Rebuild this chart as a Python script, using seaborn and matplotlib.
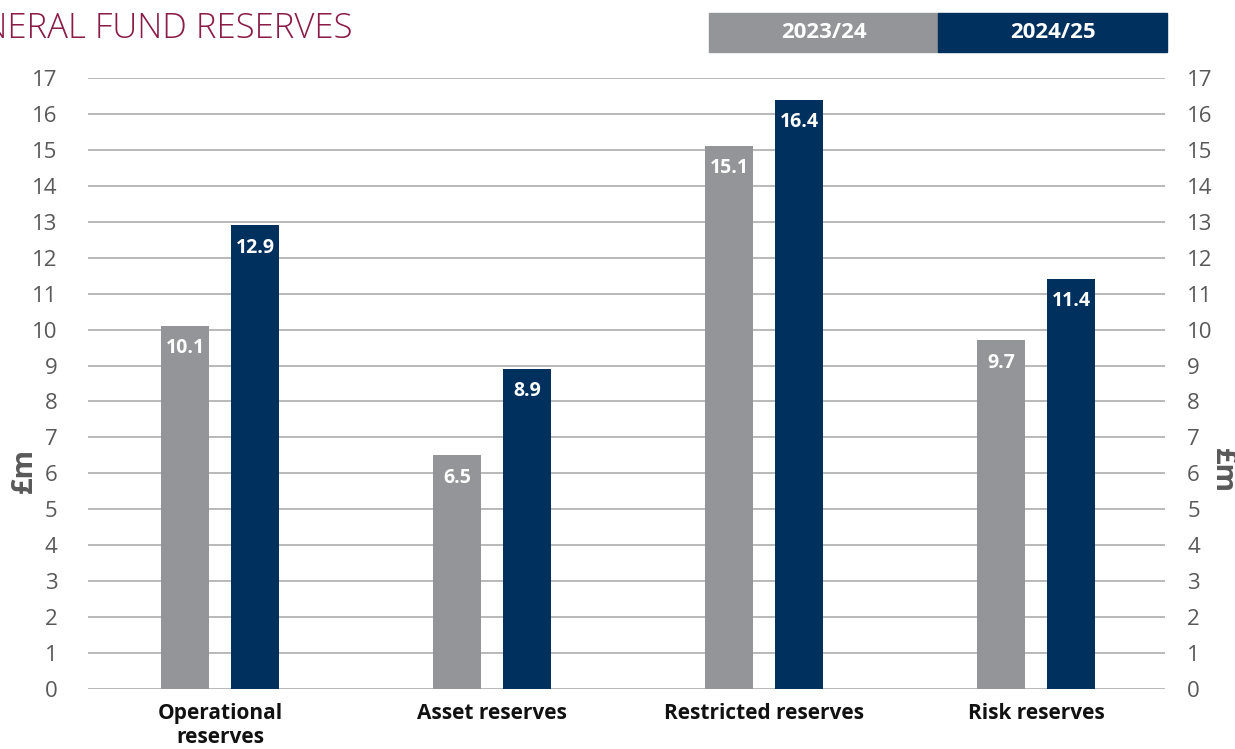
"""
Réserves du fonds général — comparaison 2023/24 vs 2024/25 (barres groupées).
"""

import numpy as np
import pandas as pd
import matplotlib.pyplot as plt
import matplotlib.patches as mpatches
import seaborn as sns

# Données
CATEGORIES = ["Operational\nreserves", "Asset reserves", "Restricted reserves", "Risk reserves"]
YEARS = ["2023/24", "2024/25"]
VALUES_2023 = [10.1, 6.5, 15.1, 9.7]
VALUES_2024 = [12.9, 8.9, 16.4, 11.4]
Y_TICKS = list(range(0, 18))

GREY = "#939598"
NAVY = "#00305e"
TEXT_GREY = "#595959"
TITLE_RED = "#8a1c47"

df = pd.DataFrame({
    "category": CATEGORIES * 2,
    "year": [YEARS[0]] * 4 + [YEARS[1]] * 4,
    "value": VALUES_2023 + VALUES_2024,
})

sns.set_theme(style="white")
plt.rcParams["font.family"] = ["Open Sans", "DejaVu Sans"]

fig = plt.figure(figsize=(12.35, 7.49), dpi=100)
ax = fig.add_axes([0.0713, 0.0801, 0.872, 0.8158])

sns.barplot(
    data=df, x="category", y="value", hue="year",
    palette=[GREY, NAVY], width=0.515, gap=0.314,
    saturation=1, legend=False, linewidth=0, ax=ax,
)

# Étiquettes de valeur dans les barres
for container in ax.containers:
    for bar in container:
        h = bar.get_height()
        ax.annotate(
            f"{h:.1f}", (bar.get_x() + bar.get_width() / 2, h),
            xytext=(0, -16), textcoords="offset points",
            ha="center", va="center", color="white",
            fontsize=14, fontweight="bold",
        )

# Axes et grille
ax.set_xlim(-0.485, 3.474)
ax.set_ylim(0, 17)
ax.set_yticks(Y_TICKS)
ax.yaxis.grid(True, color="#a6a6a6", linewidth=1.1)
ax.set_axisbelow(True)
for s in ax.spines.values():
    s.set_visible(False)
ax.tick_params(axis="y", length=0, pad=22, labelsize=16, labelcolor=TEXT_GREY)
ax.tick_params(axis="x", length=0, pad=10, labelsize=15)
for lbl in ax.get_xticklabels():
    lbl.set_fontweight("bold")
    lbl.set_color("#111111")
    lbl.set_linespacing(1.2)
ax.set_xlabel("")
ax.set_ylabel("£m", fontsize=21, fontweight="bold", color=TEXT_GREY,
              ha="center", va="center")
ax.yaxis.set_label_coords(-0.0594, 0.358)

# Axe de droite (miroir)
ax2 = ax.twinx()
ax2.set_ylim(0, 17)
ax2.set_yticks(Y_TICKS)
for s in ax2.spines.values():
    s.set_visible(False)
ax2.tick_params(axis="y", length=0, pad=16, labelsize=16, labelcolor=TEXT_GREY)
ax2.set_ylabel("£m", fontsize=21, fontweight="bold", color=TEXT_GREY, rotation=270,
               ha="center", va="center")
ax2.yaxis.set_label_coords(1.053, 0.358)
ax2.grid(False)

# Titre (coupé à gauche comme l'original)
fig.text(353 / 1235, 1 - 38 / 749, "GENERAL FUND RESERVES", ha="right", va="baseline",
         fontsize=25, color=TITLE_RED, fontweight="light")

# Légende en bandeau
box_w, box_h = 229 / 1235, 39 / 749
box_y = 1 - 52 / 749
for i, (year, col) in enumerate(zip(YEARS, [GREY, NAVY])):
    x0 = 709 / 1235 + i * box_w
    fig.patches.append(mpatches.Rectangle((x0, box_y), box_w, box_h,
                                          transform=fig.transFigure, color=col))
    fig.text(x0 + box_w / 2, box_y + box_h / 2, year, ha="center", va="center",
             color="white", fontsize=16, fontweight="bold")

fig.savefig("out.png", dpi=100)
